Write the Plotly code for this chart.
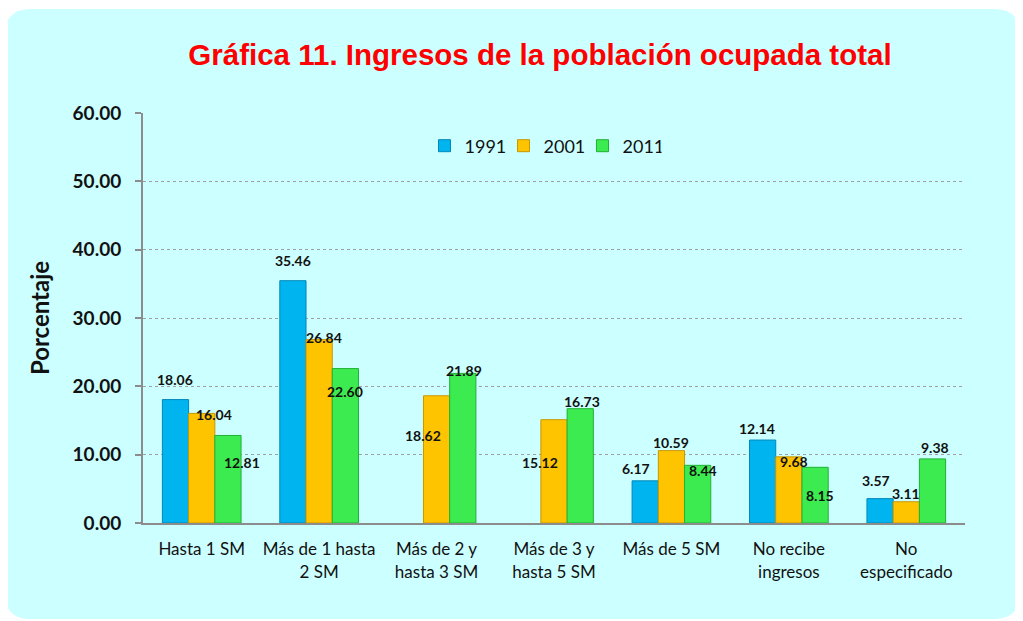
import plotly.graph_objects as go

categories = ["Hasta 1 SM", "Más de 1 hasta<br>2 SM", "Más de 2 y<br>hasta 3 SM",
              "Más de 3 y<br>hasta 5 SM", "Más de 5 SM", "No recibe<br>ingresos", "No<br>especificado"]
series_names = ["1991", "2001", "2011"]
v1991 = [18.06, 35.46, None, None, 6.17, 12.14, 3.57]
v2001 = [16.04, 26.84, 18.62, 15.12, 10.59, 9.68, 3.11]
v2011 = [12.81, 22.60, 21.89, 16.73, 8.44, 8.15, 9.38]
y_ticks = [0, 10, 20, 30, 40, 50, 60]

# styles
colors = ["#00B4F0", "#FFC400", "#3CEB50"]
line_colors = ["#0088B8", "#C89600", "#22B035"]
# label offsets in px (dx, dy) relative to bar top, per series
label_offsets = [
    [(0, 20), (0, 20), None, None, (-9, 12), (-6, 12), (-4, 18)],
    [(12, -1), (5, 2), (-14, -40), (-14, -43), (0, 8), (5, -5), (0, 8)],
    [(14, -27), (0, -23), (1, 3), (2, 7), (5, -5), (5, -28), (2, 11)],
]

OFF = 8  # default page body margin
W, H = 1023 - OFF, 621 - OFF
L, R, T, B = 143 - OFF, 965 - OFF, 113 - OFF, 523 - OFF
pw, ph = R - L, B - T

def px(x):
    return (x - OFF - L) / pw

def py(y):
    return (B - (y - OFF)) / ph

fig = go.Figure()
all_vals = [v1991, v2001, v2011]
for i, (name, vals) in enumerate(zip(series_names, all_vals)):
    fig.add_trace(go.Bar(
        x=categories, y=vals, name=name,
        marker=dict(color=colors[i], line=dict(color=line_colors[i], width=1)),
    ))

bar_w = pw / len(categories) * (1 - 0.33) / 3
ann = []
for i, vals in enumerate(all_vals):
    for j, v in enumerate(vals):
        if v is None:
            continue
        dx, dy = label_offsets[i][j]
        ann.append(dict(x=categories[j], y=v, xref="x", yref="y", text=f"{v:.2f}",
                        showarrow=False, xanchor="center", yanchor="middle",
                        xshift=(i - 1) * bar_w + dx, yshift=dy,
                        font=dict(family="Lato", size=14, color="#111111", weight="bold")))

# rounded background panel (reference pixel coords)
x0, x1, y0, y1, r = 5, 1020, 9, 619, 26
path = (f"M {px(x0+r)},{py(y0)} L {px(x1-r)},{py(y0)} Q {px(x1)},{py(y0)} {px(x1)},{py(y0+r)} "
        f"L {px(x1)},{py(y1-r)} Q {px(x1)},{py(y1)} {px(x1-r)},{py(y1)} "
        f"L {px(x0+r)},{py(y1)} Q {px(x0)},{py(y1)} {px(x0)},{py(y1-r)} "
        f"L {px(x0)},{py(y0+r)} Q {px(x0)},{py(y0)} {px(x0+r)},{py(y0)} Z")

fig.update_layout(
    width=W, height=H,
    margin=dict(l=L, r=W - R, t=T, b=H - B),
    paper_bgcolor="white", plot_bgcolor="rgba(0,0,0,0)",
    barmode="group", bargap=0.33, bargroupgap=0,
    title=dict(text="<b>Gráfica 11. Ingresos de la población ocupada total</b>",
               x=(540 - OFF) / W, xref="container", xanchor="center",
               y=1 - (55 - OFF) / H, yref="container", yanchor="middle",
               font=dict(family="Liberation Sans", size=29.5, color="#FF0000")),
    legend=dict(orientation="h", x=px(543), y=py(146), xanchor="center", yanchor="middle",
                font=dict(family="Lato", size=18, color="#111111"),
                bgcolor="rgba(0,0,0,0)", itemwidth=30, entrywidth=34, tracegroupgap=0),
    shapes=[dict(type="path", path=path, xref="paper", yref="paper",
                 fillcolor="#CCFFFF", line=dict(width=0), layer="below")],
    annotations=ann,
    showlegend=True,
)
fig.update_yaxes(range=[0, 60], tickvals=y_ticks, ticktext=[f"{t:.2f}" for t in y_ticks],
                 showgrid=True, gridcolor="#A0A0A0", griddash="dot", gridwidth=1,
                 showline=True, linecolor="#8C8C8C", linewidth=2,
                 ticks="outside", ticklen=6, tickcolor="#8C8C8C", tickwidth=2,
                 ticklabelstandoff=10,
                 tickfont=dict(family="Lato", size=19, color="#111111", weight="bold"),
                 title=dict(text="<b>Porcentaje</b>", standoff=16,
                            font=dict(family="Lato", size=24, color="#111111")),
                 zeroline=False)
fig.update_xaxes(showline=True, linecolor="#8C8C8C", linewidth=2, ticks="",
                 ticklabelstandoff=10,
                 tickfont=dict(family="Lato", size=17, color="#111111"))

fig.write_html("out.html")
